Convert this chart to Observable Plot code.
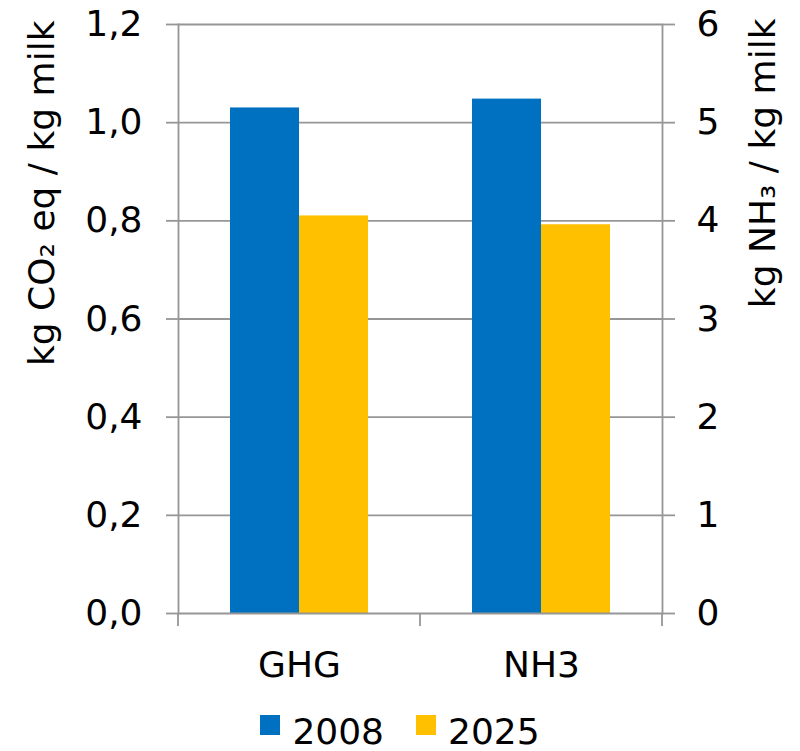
<!DOCTYPE html>
<html>
<head>
<meta charset="utf-8">
<script src="https://cdn.jsdelivr.net/npm/d3@7"></script>
<script src="https://cdn.jsdelivr.net/npm/@observablehq/plot@0.6"></script>
<style>
  body { margin: 0; background: #fff; font-family: "DejaVu Sans", Verdana, sans-serif; }
  #chart { position: relative; width: 800px; height: 751px; }
  #legend { position: absolute; left: 0; top: 714px; width: 800px; display: flex; justify-content: center;
            gap: 32px; font-size: 36px; line-height: 36px; color: #000; }
  .item { display: flex; align-items: flex-start; gap: 12px; }
  .sw { width: 20px; height: 20px; margin-top: 1px; display: inline-block; }
</style>
</head>
<body>
<div id="chart"></div>
<script>
// Emission intensities of milk production, 2008 vs 2025
const categories = ["GHG", "NH3"];
const years = ["2008", "2025"];
const ghgValues = [1.03, 0.81];   // kg CO2 eq / kg milk (left axis)
const nh3Values = [5.24, 3.96];   // kg NH3 / kg milk (right axis)
const leftTicks = [0, 0.2, 0.4, 0.6, 0.8, 1.0, 1.2];
const rightTicks = [0, 1, 2, 3, 4, 5, 6];
const leftTitle = "kg CO₂ eq / kg milk";
const rightTitle = "kg NH₃ / kg milk";
const yearColors = ["#0070C0", "#FFC000"];

// right-axis units per left-axis unit
const rightPerLeft = rightTicks[rightTicks.length - 1] / leftTicks[leftTicks.length - 1];

const rows = [];
years.forEach((year, i) => {
  rows.push({category: categories[0], year, value: ghgValues[i], y: ghgValues[i]});
  rows.push({category: categories[1], year, value: nh3Values[i], y: nh3Values[i] / rightPerLeft});
});

const axisGray = "#969696";
const lineWidth = 1.8;
const font = '"DejaVu Sans", Verdana, sans-serif';

const plot = Plot.plot({
  width: 800,
  height: 700,
  marginLeft: 177,
  marginRight: 138,
  marginTop: 24,
  marginBottom: 87,
  style: {fontFamily: font, fontSize: "36px", color: "#000", background: "#fff"},
  fx: {domain: categories, padding: 0, label: null},
  x: {domain: years, paddingInner: 0, paddingOuter: 0.732, axis: null},
  y: {domain: [0, leftTicks[leftTicks.length - 1]], axis: null},
  color: {domain: years, range: yearColors},
  marks: [
    Plot.gridY(leftTicks.slice(1), {stroke: axisGray, strokeOpacity: 1, strokeWidth: lineWidth}),
    Plot.barY(rows, {fx: "category", x: "year", y: "y", fill: "year", insetLeft: 0, insetRight: 0}),
    Plot.ruleY([0], {stroke: axisGray, strokeWidth: lineWidth}),
    Plot.frame({anchor: "left", facetAnchor: "left", stroke: axisGray, strokeWidth: lineWidth}),
    Plot.frame({anchor: "right", facetAnchor: "right", stroke: axisGray, strokeWidth: lineWidth}),
    Plot.axisY(leftTicks, {
      anchor: "left", tickSize: 12, tickPadding: 24, label: null,
      tickFormat: d => d.toFixed(1).replace(".", ","),
      stroke: axisGray, strokeWidth: lineWidth, fill: "#000"
    }),
    Plot.axisY(rightTicks.map(t => t / rightPerLeft), {
      anchor: "right", tickSize: 12, tickPadding: 22, label: null,
      tickFormat: d => String(Math.round(d * rightPerLeft)),
      stroke: axisGray, strokeWidth: lineWidth, fill: "#000"
    }),
    Plot.axisFx({anchor: "bottom", tickSize: 0, tickPadding: 38, label: null, fill: "#000"}),
    Plot.text([leftTitle], {
      fx: () => categories[0], text: d => d, frameAnchor: "top-left",
      rotate: -90, textAnchor: "end", lineAnchor: "bottom", dx: -125, dy: -4, fill: "#000"
    }),
    Plot.text([rightTitle], {
      fx: () => categories[categories.length - 1], text: d => d, frameAnchor: "top-right",
      rotate: -90, textAnchor: "end", lineAnchor: "bottom", dx: 112, dy: -6, fill: "#000"
    })
  ]
});

// category separator ticks below the baseline, from the fx band edges
const fx = plot.scale("fx");
const yScale = plot.scale("y");
const yBase = yScale.apply(0);
const edges = categories.map(c => fx.apply(c));
edges.push(fx.apply(categories[categories.length - 1]) + fx.bandwidth);
d3.select(plot).append("g")
  .attr("stroke", axisGray)
  .attr("stroke-width", lineWidth)
  .selectAll("line")
  .data(edges)
  .join("line")
  .attr("x1", d => d).attr("x2", d => d)
  .attr("y1", yBase).attr("y2", yBase + 13);

const chart = document.getElementById("chart");
chart.appendChild(plot);

// legend
const legend = document.createElement("div");
legend.id = "legend";
years.forEach((year, i) => {
  const item = document.createElement("div");
  item.className = "item";
  const sw = document.createElement("span");
  sw.className = "sw";
  sw.style.background = yearColors[i];
  const label = document.createElement("span");
  label.textContent = year;
  item.appendChild(sw);
  item.appendChild(label);
  legend.appendChild(item);
});
chart.appendChild(legend);
</script>
</body>
</html>
